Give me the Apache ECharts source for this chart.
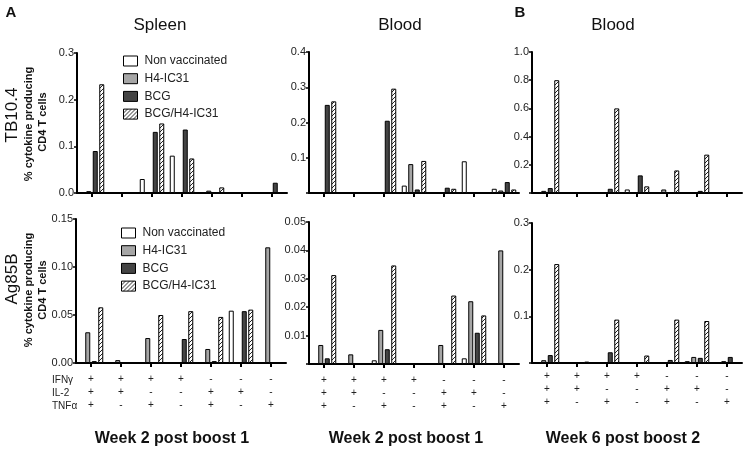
<!DOCTYPE html>
<html><head><meta charset="utf-8">
<script src="https://cdn.jsdelivr.net/npm/echarts@6/dist/echarts.min.js"></script>
<style>html,body{margin:0;padding:0;background:#fff}#c{width:750px;height:452px}</style>
</head><body><div id="c"></div>
<script>
// Categories: cytokine combinations (IFNγ / IL-2 / TNFα)
const ifng = ['+','+','+','+','-','-','-'];
const il2  = ['+','+','-','-','+','+','-'];
const tnfa = ['+','-','+','-','+','-','+'];
const seriesNames = ['Non vaccinated','H4-IC31','BCG','BCG/H4-IC31'];

// Panel A top: Spleen TB10.4
const spleenTB_NV  = [0, 0, 0.03, 0.08, 0, 0, 0];
const spleenTB_H4  = [0.004, 0, 0, 0, 0.005, 0, 0];
const spleenTB_BCG = [0.09, 0, 0.131, 0.136, 0, 0, 0.022];
const spleenTB_BH  = [0.233, 0, 0.149, 0.074, 0.012, 0, 0];
// Panel A top: Blood TB10.4
const bloodTB_NV  = [0, 0, 0, 0.021, 0, 0.09, 0.012];
const bloodTB_H4  = [0.002, 0, 0, 0.082, 0, 0, 0.007];
const bloodTB_BCG = [0.25, 0.001, 0.205, 0.01, 0.015, 0, 0.031];
const bloodTB_BH  = [0.26, 0, 0.296, 0.091, 0.012, 0, 0.01];
// Panel B top: Blood TB10.4 week 6
const bloodTBw6_NV  = [0, 0, 0, 0.025, 0, 0, 0];
const bloodTBw6_H4  = [0.015, 0, 0, 0, 0.025, 0.005, 0];
const bloodTBw6_BCG = [0.035, 0, 0.03, 0.125, 0, 0.015, 0];
const bloodTBw6_BH  = [0.8, 0, 0.6, 0.047, 0.16, 0.272, 0];
// Panel A bottom: Spleen Ag85B
const spleenAg_NV  = [0, 0, 0, 0, 0, 0.0545, 0];
const spleenAg_H4  = [0.032, 0.003, 0.026, 0.001, 0.0146, 0, 0.1205];
const spleenAg_BCG = [0.002, 0, 0, 0.025, 0.002, 0.054, 0];
const spleenAg_BH  = [0.058, 0, 0.050, 0.054, 0.048, 0.0556, 0];
// Panel A bottom: Blood Ag85B
const bloodAg_NV  = [0, 0, 0.0013, 0, 0, 0.002, 0];
const bloodAg_H4  = [0.0067, 0.0034, 0.012, 0, 0.0067, 0.0221, 0.04];
const bloodAg_BCG = [0.002, 0, 0.0052, 0, 0, 0.011, 0];
const bloodAg_BH  = [0.0313, 0, 0.0347, 0, 0.0241, 0.0171, 0];
// Panel B bottom: Blood Ag85B week 6
const bloodAgw6_NV  = [0, 0, 0, 0, 0, 0.004, 0];
const bloodAgw6_H4  = [0.006, 0, 0, 0, 0, 0.013, 0.004];
const bloodAgw6_BCG = [0.017, 0, 0.023, 0, 0.0065, 0.011, 0.013];
const bloodAgw6_BH  = [0.212, 0.003, 0.093, 0.016, 0.093, 0.09, 0];

// y axis ticks per panel
const yMax      = [0.3, 0.4, 1.0, 0.15, 0.05, 0.3];
const yInterval = [0.1, 0.1, 0.2, 0.05, 0.01, 0.1];
const yDecimals = [1, 1, 1, 2, 2, 1];
const yShowZero = [true, false, false, true, false, false];

const panelData = [
  [spleenTB_NV, spleenTB_H4, spleenTB_BCG, spleenTB_BH],
  [bloodTB_NV, bloodTB_H4, bloodTB_BCG, bloodTB_BH],
  [bloodTBw6_NV, bloodTBw6_H4, bloodTBw6_BCG, bloodTBw6_BH],
  [spleenAg_NV, spleenAg_H4, spleenAg_BCG, spleenAg_BH],
  [bloodAg_NV, bloodAg_H4, bloodAg_BCG, bloodAg_BH],
  [bloodAgw6_NV, bloodAgw6_H4, bloodAgw6_BCG, bloodAgw6_BH]
];

const FONT = '"Liberation Sans", Arial, Helvetica, sans-serif';
const grids = [
  {left: 77,  top: 53,  width: 210, height: 140},
  {left: 309, top: 52,  width: 210, height: 141},
  {left: 532, top: 52,  width: 210, height: 141},
  {left: 76,  top: 219, width: 210, height: 144},
  {left: 309, top: 222, width: 210, height: 142},
  {left: 532, top: 223, width: 210, height: 140}
];

function makeHatch(){
  const c = document.createElement('canvas'); c.width = 4; c.height = 4;
  const g = c.getContext('2d');
  g.fillStyle = '#fff'; g.fillRect(0,0,4,4);
  g.strokeStyle = '#222'; g.lineWidth = 1;
  g.beginPath();
  g.moveTo(0,4); g.lineTo(4,0);
  g.moveTo(-1,1); g.lineTo(1,-1);
  g.moveTo(3,5); g.lineTo(5,3);
  g.stroke();
  return c;
}
const hatch = {image: makeHatch(), repeat: 'repeat'};
const fills = ['#ffffff', '#a6a6a6', '#444444', hatch];

const categories = ifng.map((v,i) => v + '\n' + il2[i] + '\n' + tnfa[i]);

const xAxes = [], yAxes = [], series = [];
grids.forEach((g, p) => {
  const bottomRow = p >= 3;
  xAxes.push({
    gridIndex: p, type: 'category', data: categories,
    axisLine: {lineStyle: {color: '#000', width: 2}},
    axisTick: {show: true, alignWithLabel: true, length: 4, lineStyle: {color: '#000', width: 2}},
    axisLabel: {show: bottomRow, interval: 0, fontSize: 10, lineHeight: 13, color: '#222', fontFamily: FONT, margin: p === 5 ? 7 : 10}
  });
  yAxes.push({
    gridIndex: p, type: 'value', min: 0, max: yMax[p], interval: yInterval[p],
    splitLine: {show: false},
    axisLine: {show: true, lineStyle: {color: '#000', width: 2}},
    axisTick: {show: true, length: 3, lineStyle: {color: '#000', width: 1.5}},
    axisLabel: {fontSize: 11, color: '#222', fontFamily: FONT, margin: 3,
      formatter: v => (v === 0 && !yShowZero[p]) ? '' : v.toFixed(yDecimals[p])}
  });
  panelData[p].forEach((arr, s) => {
    series.push({
      type: 'bar', name: seriesNames[s], xAxisIndex: p, yAxisIndex: p,
      data: arr, barWidth: 5, barGap: '30%',
      itemStyle: {color: fills[s], borderColor: '#000', borderWidth: 1},
      emphasis: {disabled: true}, animation: false
    });
  });
});

function legendAt(left, top){
  return {
    orient: 'vertical', left: left, top: top, itemWidth: 14, itemHeight: 10, itemGap: 5.7,
    icon: 'rect', selectedMode: false, data: seriesNames,
    itemStyle: {borderColor: '#000', borderWidth: 1},
    textStyle: {fontSize: 12, color: '#222', fontFamily: FONT, padding: [0,0,0,2]}
  };
}

function txt(x, y, s, size, opts){
  return Object.assign({type: 'text', x: x, y: y,
    style: Object.assign({text: s, fontSize: size, fontFamily: FONT, fill: '#111', textAlign: 'center', textVerticalAlign: 'middle'}, opts && opts.style || {})},
    opts && opts.extra || {});
}
function rot(x, y, s, size, weight){
  return {type: 'text', x: x, y: y, rotation: Math.PI/2,
    style: {text: s, fontSize: size, fontWeight: weight || 'normal', fontFamily: FONT, fill: '#111', textAlign: 'center', textVerticalAlign: 'middle'}};
}

const graphics = [
  txt(11, 13, 'A', 15, {style: {fontWeight: 'bold'}}),
  txt(520, 13, 'B', 15, {style: {fontWeight: 'bold'}}),
  txt(160, 25, 'Spleen', 17),
  txt(400, 25, 'Blood', 17),
  txt(613, 25, 'Blood', 17),
  rot(12, 115, 'TB10.4', 17),
  rot(29, 124, '% cytokine producing', 11, 'bold'),
  rot(43, 122, 'CD4 T cells', 11, 'bold'),
  rot(12, 279, 'Ag85B', 17),
  rot(29, 290, '% cytokine producing', 11, 'bold'),
  rot(43, 290, 'CD4 T cells', 11, 'bold'),
  txt(52, 380, 'IFNγ', 10, {style: {textAlign: 'left', fill: '#222'}}),
  txt(52, 393, 'IL-2', 10, {style: {textAlign: 'left', fill: '#222'}}),
  txt(52, 406, 'TNFα', 10, {style: {textAlign: 'left', fill: '#222'}}),
  txt(172, 439, 'Week 2 post boost 1', 16, {style: {fontWeight: 'bold'}}),
  txt(406, 439, 'Week 2 post boost 1', 16, {style: {fontWeight: 'bold'}}),
  txt(623, 439, 'Week 6 post boost 2', 16, {style: {fontWeight: 'bold'}})
];

const chart = echarts.init(document.getElementById('c'), null, {renderer: 'canvas'});
chart.setOption({
  animation: false,
  backgroundColor: '#fff',
  grid: grids,
  xAxis: xAxes,
  yAxis: yAxes,
  legend: [legendAt(118, 50), legendAt(116, 222)],
  series: series,
  graphic: graphics
});
</script></body></html>
